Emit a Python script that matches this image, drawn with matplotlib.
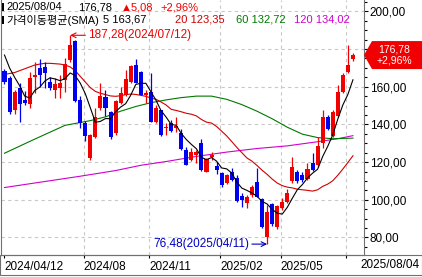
import matplotlib
matplotlib.use('Agg')
import matplotlib.pyplot as plt
import numpy as np
import pandas as pd
from matplotlib.patches import Polygon, Rectangle

plt.rcParams['font.family'] = ['Liberation Sans', 'Noto Sans CJK KR', 'DejaVu Sans']

# weekly candles, first week ending 2024/04/12, last (current) week at 2025/08/04
first_week = '2024-04-12'
last_date = '2025/08/04'

opens = [168.3, 164.5, 147.6, 159.5, 152.9, 150.8, 165.0, 169.8, 170.6, 162.3,
         158.2, 159.2, 163.6, 174.2, 184.4, 153.0, 141.0, 122.0, 133.5, 148.5,
         154.7, 146.8, 135.3, 151.2, 155.6, 162.7, 171.3, 168.0, 155.6, 157.4,
         141.4, 147.6, 137.9, 140.6, 137.9, 135.5, 126.5, 121.1, 123.8, 130.0,
         114.9, 122.5, 117.9, 114.4, 108.7, 114.9, 111.4, 102.0, 98.5, 102.5,
         109.6, 100.3, 80.5, 97.5, 85.7, 95.5, 99.0, 110.2, 114.9, 113.2,
         110.9, 119.3, 118.5, 130.0, 143.7, 133.8, 144.5, 157.4, 168.0, 174.5]
highs = [169.5, 165.5, 158.0, 162.0, 157.5, 168.0, 173.3, 174.5, 172.9, 165.0,
         164.5, 166.2, 175.1, 187.28, 185.0, 155.0, 142.0, 134.8, 148.5, 161.8,
         158.3, 147.0, 153.0, 160.0, 168.9, 171.5, 174.5, 168.5, 158.5, 167.1,
         150.3, 147.6, 140.6, 142.3, 143.7, 137.5, 128.2, 127.3, 126.4, 132.1,
         122.0, 125.5, 120.2, 115.0, 113.7, 116.7, 113.2, 103.4, 102.5, 107.9,
         116.7, 100.8, 97.2, 98.2, 97.2, 100.8, 105.5, 122.9, 115.8, 114.9,
         119.7, 124.6, 133.1, 147.6, 144.9, 147.6, 160.9, 167.5, 182.1, 177.8]
lows = [161.5, 145.5, 145.5, 141.4, 150.5, 148.9, 156.5, 160.0, 159.2, 158.2,
        153.8, 153.8, 157.3, 173.3, 152.0, 137.9, 131.0, 121.0, 133.0, 147.6,
        144.5, 132.1, 134.5, 150.8, 155.0, 162.0, 161.8, 155.6, 151.2, 141.4,
        140.5, 134.0, 134.4, 136.2, 136.0, 126.5, 118.2, 120.8, 119.4, 115.5,
        114.5, 121.0, 113.7, 107.0, 108.4, 110.0, 99.0, 96.4, 95.5, 101.7,
        101.7, 84.8, 76.48, 86.2, 84.3, 94.6, 98.5, 108.7, 108.7, 109.6,
        110.5, 115.5, 117.6, 127.3, 137.0, 133.4, 143.8, 156.5, 167.5, 173.5]
closes = [162.7, 146.5, 157.3, 150.7, 151.2, 164.5, 166.2, 166.2, 167.1, 159.5,
          161.3, 161.8, 171.9, 182.1, 152.5, 141.0, 134.0, 134.4, 143.7, 155.1,
          148.5, 133.5, 152.6, 156.5, 163.9, 171.0, 161.8, 155.6, 156.5, 141.4,
          148.5, 134.4, 138.8, 136.7, 139.1, 127.0, 118.5, 125.5, 125.5, 115.8,
          121.4, 123.8, 115.8, 107.9, 113.2, 110.5, 99.5, 99.9, 101.7, 106.6,
          101.7, 85.4, 93.7, 87.0, 96.9, 99.0, 103.4, 117.6, 110.2, 110.5,
          116.2, 115.8, 128.5, 143.7, 137.4, 146.8, 157.4, 166.2, 171.7, 176.78]

ma5 = [176.8, 170.0, 165.0, 160.5, 155.0, 154.0, 158.0, 159.8, 163.0, 164.7,
       164.1, 163.2, 164.3, 167.3, 165.9, 161.9, 156.3, 148.8, 141.1, 141.6,
       143.1, 143.0, 146.7, 149.2, 151.0, 155.5, 161.2, 161.8, 161.8, 157.3,
       152.8, 147.3, 143.9, 140.0, 139.5, 135.2, 132.0, 129.4, 127.1, 122.5,
       121.3, 122.4, 120.5, 116.9, 116.4, 114.2, 109.4, 106.2, 105.0, 103.6,
       101.9, 99.1, 97.8, 94.9, 92.9, 92.4, 96.0, 100.8, 105.4, 108.1,
       111.6, 114.1, 116.2, 122.9, 128.3, 134.4, 142.8, 150.3, 155.9, 163.67]
ma20 = [166.5, 167.0, 167.5, 168.5, 169.5, 170.5, 171.5, 172.0, 172.4, 172.4,
        172.2, 172.0, 171.5, 170.5, 168.5, 165.5, 162.5, 159.5, 157.5, 156.5,
        155.8, 155.1, 154.9, 155.2, 155.8, 156.1, 155.9, 155.4, 154.9, 154.0,
        153.3, 151.9, 150.3, 148.0, 147.4, 146.7, 145.9, 145.4, 144.5, 142.6,
        141.2, 140.7, 138.9, 136.4, 133.9, 130.9, 127.8, 125.0, 122.2, 120.5,
        118.2, 115.7, 113.5, 111.0, 108.9, 107.5, 106.7, 106.3, 105.6, 105.3,
        105.0, 104.6, 105.3, 107.1, 108.3, 110.1, 113.0, 116.3, 119.8, 123.35]
ma60_idx = [0, 6, 12, 17, 20, 23, 26, 29, 32, 35, 38, 41, 44, 47, 50, 53, 56, 59, 62, 65, 69]
ma60 = [124.7, 132.2, 139.5, 142.0, 144.0, 147.0, 149.5, 151.5, 153.0, 154.2, 155.0,
        155.0, 153.3, 150.5, 147.0, 143.0, 138.5, 134.8, 133.0, 132.4, 132.72]
ma120_idx = [0, 7, 15, 22, 27, 32, 38, 44, 50, 56, 62, 66, 69]
ma120 = [106.5, 109.3, 112.5, 115.5, 118.3, 120.3, 123.0, 125.3, 127.2, 128.6, 130.8, 132.4, 134.02]

W, H = 422, 277
UP, DOWN = '#f00000', '#0000f0'
FS = 8


def fx(px):
    return px / W


def fy(py):
    return 1 - py / H


def kfmt(v):
    return f'{v:.2f}'.replace('.', ',')


fig = plt.figure(figsize=(W / 100, H / 100), dpi=100)
ax = fig.add_axes([fx(1), fy(255), fx(363), 255 / H])

n = len(closes)
x = np.arange(n)
o = np.array(opens)
c = np.array(closes)
cols = [UP if c[i] >= o[i] else DOWN for i in range(n)]

# grid
for v in range(80, 201, 20):
    ax.axhline(v, color='#c8c8c8', lw=0.8, ls=(0, (3, 3)), zorder=0)

dates = pd.date_range(first_week, periods=n - 1, freq='W-FRI')
month_ticks = [i for i, d in enumerate(dates)
               if i > 8 and d.month in (2, 5, 8, 11) and d.day <= 7]
for i in month_ticks:
    ax.axvline(i - 0.3, color='#c8c8c8', lw=0.8, ls=(0, (3, 3)), zorder=0)

# candles
ax.vlines(x, lows, highs, colors=cols, lw=0.9, zorder=2)
body = np.maximum(np.abs(c - o), 0.6)
ax.bar(x, body, bottom=np.minimum(o, c), width=0.8, color=cols, lw=0, zorder=3)

# moving averages
ax.plot(ma120_idx, ma120, color='#d000d0', lw=0.8, zorder=1)
ax.plot(ma60_idx, ma60, color='#007800', lw=0.8, zorder=1)
ax.plot(x, ma20, color='#d00000', lw=0.8, zorder=1)
ax.plot(x, ma5, color='black', lw=0.8, zorder=4)

ax.set_xlim(-0.69, 71.19)
ax.set_ylim(70.7, 206.0)

# right price axis
price_ticks = list(range(80, 201, 20))
ax.yaxis.tick_right()
ax.set_yticks(price_ticks)
ax.set_yticks(range(75, 206, 5), minor=True)
ax.tick_params(axis='y', which='major', direction='out', length=3, pad=1, width=0.8,
               labelsize=8.5)
ax.tick_params(axis='y', which='minor', direction='out', length=2, width=0.8)

# date axis
tick_pos = [0] + month_ticks
tick_lab = [dates[0].strftime('%Y/%m/%d')] + [dates[i].strftime('%Y/%m') for i in month_ticks]
tick_lab[-1] = ''
ax.set_xticks([p - 0.3 if p else p for p in tick_pos])
ax.set_xticklabels(tick_lab, fontsize=8.5, ha='left')
ax.tick_params(axis='x', direction='out', length=2, pad=2, width=0.8)
fig.text(fx(420), fy(265), last_date, fontsize=8.5, ha='right', va='center')

ax.spines['top'].set_visible(False)
for s in ['left', 'right', 'bottom']:
    ax.spines[s].set_linewidth(0.8)
    ax.spines[s].set_color('#707070')

# date strip box
fig.add_artist(Rectangle((0, fy(275)), 1, fy(255) - fy(275), fill=False,
                         ec='#707070', lw=0.8, transform=fig.transFigure))

# highest / lowest labels
hi = int(np.argmax(highs))
lo = int(np.argmin(lows))
ax.annotate(f'{kfmt(highs[hi])}({dates[hi].strftime("%Y/%m/%d")})', xy=(hi, highs[hi]),
            xytext=(18, 0), textcoords='offset pixels', color=UP, fontsize=8.5,
            ha='left', va='center',
            arrowprops=dict(arrowstyle='->', color=UP, lw=0.8, shrinkA=0, shrinkB=0))
ax.annotate(f'{kfmt(lows[lo])}({dates[lo].strftime("%Y/%m/%d")})', xy=(lo, lows[lo]),
            xytext=(-18, 0), textcoords='offset pixels', color='#0000c0', fontsize=8.5,
            ha='right', va='center',
            arrowprops=dict(arrowstyle='->', color='#0000c0', lw=0.8, shrinkA=0, shrinkB=0))

# current price tag (it hides the price label it sits on)
fig.canvas.draw()
ty = H - ax.transData.transform((0, closes[-1]))[1]
labels = []
for v in price_ticks:
    py = H - ax.transData.transform((0, v))[1]
    labels.append('' if abs(py - ty) < 16 else kfmt(v))
ax.set_yticklabels(labels)

tag = Polygon([(fx(364), fy(ty)), (fx(372), fy(ty - 14)), (fx(422), fy(ty - 14)),
               (fx(422), fy(ty + 14)), (fx(372), fy(ty + 14))],
              closed=True, fc=UP, ec='none', transform=fig.transFigure)
fig.add_artist(tag)
chg = closes[-1] - closes[-2]
pct = chg / closes[-2] * 100
fig.text(fx(394), fy(ty), kfmt(closes[-1]) + '\n+' + kfmt(pct) + '%', color='white',
         fontsize=7.5, ha='center', va='center', linespacing=1.05)

# header legend
for row_y in (7, 20):
    fig.add_artist(Rectangle((fx(1.5), fy(row_y + 4)), fx(2.5), 8 / H, fc='black', ec='none',
                             transform=fig.transFigure))
fig.text(fx(6), fy(7), last_date, fontsize=FS, va='center')
fig.text(fx(78), fy(7), kfmt(closes[-1]), fontsize=FS, va='center')
fig.text(fx(121), fy(7), '\u25b2' + kfmt(chg), fontsize=FS, va='center', color=UP)
fig.text(fx(160), fy(7), '+' + kfmt(pct) + '%', fontsize=FS, va='center', color=UP)

fig.text(fx(6), fy(20), '가격이동평균(SMA)', fontsize=FS, va='center')
fig.text(fx(103), fy(20), '5 ' + kfmt(ma5[-1]), fontsize=FS, va='center')
fig.text(fx(175), fy(20), '20 ' + kfmt(ma20[-1]), fontsize=FS, va='center', color='#d00000')
fig.text(fx(236), fy(20), '60 ' + kfmt(ma60[-1]), fontsize=FS, va='center', color='#007800')
fig.text(fx(294), fy(20), '120 ' + kfmt(ma120[-1]), fontsize=FS, va='center', color='#d000d0')

fig.savefig('out.png', dpi=100)
